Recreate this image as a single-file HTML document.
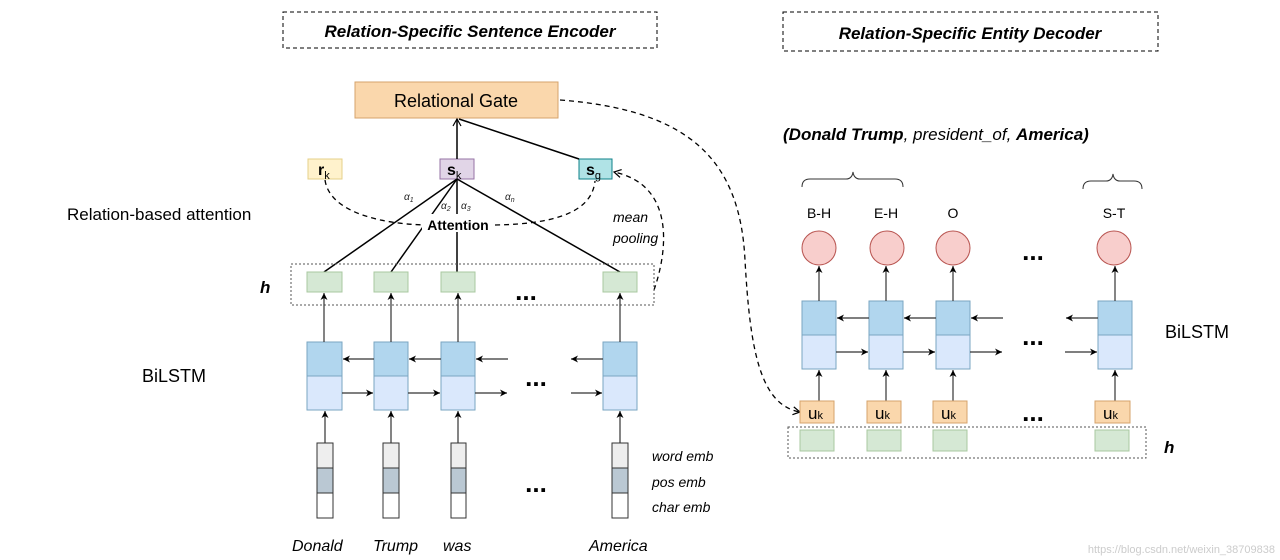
<!DOCTYPE html>
<html><head><meta charset="utf-8"><style>
html,body{margin:0;padding:0;background:#fff}
svg{display:block;font-family:"Liberation Sans",sans-serif}
</style></head><body>
<svg width="1280" height="560" viewBox="0 0 1280 560" xmlns="http://www.w3.org/2000/svg">
<defs>
<marker id="a" markerWidth="8" markerHeight="8" refX="7" refY="4" orient="auto" markerUnits="userSpaceOnUse"><path d="M0,0.5 L7,4 L0,7.5 L2,4 Z" fill="#000"/></marker>
<marker id="o" markerWidth="10" markerHeight="10" refX="8" refY="5" orient="auto" markerUnits="userSpaceOnUse"><path d="M1,1 L8,5 L1,9" fill="none" stroke="#000" stroke-width="1.2"/></marker>
</defs>
<!-- titles -->
<rect x="283" y="12" width="374" height="36" fill="none" stroke="#000" stroke-dasharray="4,3"/>
<text x="470" y="37" text-anchor="middle" font-size="17" font-weight="bold" font-style="italic">Relation-Specific Sentence Encoder</text>
<rect x="783" y="12" width="375" height="39" fill="none" stroke="#000" stroke-dasharray="4,3"/>
<text x="970" y="39" text-anchor="middle" font-size="17" font-weight="bold" font-style="italic">Relation-Specific Entity Decoder</text>

<!-- left side -->
<rect x="355" y="82" width="203" height="36" fill="#fad7ac" stroke="#d6a36b"/>
<text x="456" y="107" text-anchor="middle" font-size="18">Relational Gate</text>
<rect x="308" y="159" width="34" height="20" fill="#fff2cc" stroke="#e6d08a"/>
<text x="318" y="175" font-size="16" font-weight="bold">r<tspan font-size="11" dy="4" font-weight="normal">k</tspan></text>
<rect x="440" y="159" width="34" height="20" fill="#e1d5e7" stroke="#9673a6"/>
<text x="447" y="175" font-size="16" font-weight="bold">s<tspan font-size="11" dy="4" font-weight="normal">k</tspan></text>
<rect x="579" y="159" width="33" height="20" fill="#b0e3e6" stroke="#0e8088"/>
<text x="586" y="175" font-size="16" font-weight="bold">s<tspan font-size="11" dy="4" font-weight="normal">g</tspan></text>
<line x1="457" y1="159" x2="457" y2="119" stroke="#000" stroke-width="1.5" marker-end="url(#o)"/>
<line x1="579" y1="159" x2="459" y2="119" stroke="#000" stroke-width="1.5"/>
<path d="M325,180 C330,215 390,225 430,225" fill="none" stroke="#000" stroke-width="1.3" stroke-dasharray="5,4"/>
<path d="M495,225 C560,224 592,210 595,181" fill="none" stroke="#000" stroke-width="1.3" stroke-dasharray="5,4"/>
<g stroke="#000" stroke-width="1.5">
<line x1="457" y1="179" x2="324" y2="272"/>
<line x1="457" y1="179" x2="391" y2="272"/>
<line x1="457" y1="179" x2="457" y2="272"/>
<line x1="457" y1="179" x2="620" y2="272"/>
</g>
<rect x="422" y="214" width="72" height="18" fill="#fff"/>
<text x="458" y="230" text-anchor="middle" font-size="14" font-weight="bold">Attention</text>
<g font-size="10" font-style="italic" fill="#222">
<text x="404" y="200">α<tspan font-size="7" dy="2">1</tspan></text>
<text x="441" y="209">α<tspan font-size="7" dy="2">2</tspan></text>
<text x="461" y="209">α<tspan font-size="7" dy="2">3</tspan></text>
<text x="505" y="200">α<tspan font-size="7" dy="2">n</tspan></text>
</g>
<text x="613" y="222" font-size="14" font-style="italic">mean</text>
<text x="613" y="243" font-size="14" font-style="italic">pooling</text>
<path d="M654,290 C668,250 675,185 614,172" fill="none" stroke="#000" stroke-width="1.3" stroke-dasharray="5,4" marker-end="url(#o)"/>
<text x="67" y="220" font-size="17">Relation-based attention</text>
<text x="260" y="293" font-size="17" font-weight="bold" font-style="italic">h</text>
<text x="142" y="382" font-size="18">BiLSTM</text>
<rect x="291" y="264" width="363" height="41" fill="none" stroke="#555" stroke-dasharray="2,2"/>
<g fill="#d5e8d4" stroke="#a9c8a0">
<rect x="307" y="272" width="35" height="20"/><rect x="374" y="272" width="34" height="20"/><rect x="441" y="272" width="34" height="20"/><rect x="603" y="272" width="34" height="20"/>
</g>
<text x="526" y="300" text-anchor="middle" font-size="26" font-weight="bold">...</text>
<!-- bilstm left -->
<g stroke="#7aa6c2">
<rect x="307" y="342" width="35" height="34" fill="#b1d6ee"/><rect x="307" y="376" width="35" height="34" fill="#dae8fc"/>
<rect x="374" y="342" width="34" height="34" fill="#b1d6ee"/><rect x="374" y="376" width="34" height="34" fill="#dae8fc"/>
<rect x="441" y="342" width="34" height="34" fill="#b1d6ee"/><rect x="441" y="376" width="34" height="34" fill="#dae8fc"/>
<rect x="603" y="342" width="34" height="34" fill="#b1d6ee"/><rect x="603" y="376" width="34" height="34" fill="#dae8fc"/>
</g>
<g stroke="#333" stroke-width="1.2" marker-end="url(#a)">
<line x1="324" y1="342" x2="324" y2="293"/><line x1="391" y1="342" x2="391" y2="293"/><line x1="458" y1="342" x2="458" y2="293"/><line x1="620" y1="342" x2="620" y2="293"/>
<line x1="374" y1="359" x2="343" y2="359"/><line x1="441" y1="359" x2="409" y2="359"/><line x1="508" y1="359" x2="476" y2="359"/><line x1="603" y1="359" x2="571" y2="359"/>
<line x1="342" y1="393" x2="373" y2="393"/><line x1="408" y1="393" x2="440" y2="393"/><line x1="475" y1="393" x2="507" y2="393"/><line x1="571" y1="393" x2="602" y2="393"/>
<line x1="325" y1="443" x2="325" y2="411"/><line x1="391" y1="443" x2="391" y2="411"/><line x1="458" y1="443" x2="458" y2="411"/><line x1="620" y1="443" x2="620" y2="411"/>
</g>
<text x="536" y="386" text-anchor="middle" font-size="26" font-weight="bold">...</text>
<g stroke="#333">
<rect x="317" y="443" width="16" height="25" fill="#eeeeee"/><rect x="317" y="468" width="16" height="25" fill="#bac8d3"/><rect x="317" y="493" width="16" height="25" fill="#fff"/>
<rect x="383" y="443" width="16" height="25" fill="#eeeeee"/><rect x="383" y="468" width="16" height="25" fill="#bac8d3"/><rect x="383" y="493" width="16" height="25" fill="#fff"/>
<rect x="451" y="443" width="15" height="25" fill="#eeeeee"/><rect x="451" y="468" width="15" height="25" fill="#bac8d3"/><rect x="451" y="493" width="15" height="25" fill="#fff"/>
<rect x="612" y="443" width="16" height="25" fill="#eeeeee"/><rect x="612" y="468" width="16" height="25" fill="#bac8d3"/><rect x="612" y="493" width="16" height="25" fill="#fff"/>
</g>
<text x="536" y="492" text-anchor="middle" font-size="26" font-weight="bold">...</text>
<g font-size="14" font-style="italic">
<text x="652" y="461">word emb</text><text x="652" y="487">pos emb</text><text x="652" y="512">char emb</text>
</g>
<g font-size="16" font-style="italic">
<text x="292" y="551">Donald</text><text x="373" y="551">Trump</text><text x="443" y="551">was</text><text x="589" y="551">America</text>
</g>
<path d="M560,100 C690,110 740,160 745,260 C750,350 760,405 800,412" fill="none" stroke="#000" stroke-width="1.3" stroke-dasharray="5,4" marker-end="url(#o)"/>

<!-- right side -->
<text x="783" y="140" font-size="17" font-style="italic"><tspan font-weight="bold">(Donald Trump</tspan>, president_of,  <tspan font-weight="bold">America)</tspan></text>
<path d="M802,187 Q802,179 810,179 L846,179 Q852,179 853,172 Q854,179 860,179 L895,179 Q903,179 903,187" fill="none" stroke="#333"/>
<path d="M1083,189 Q1083,181 1091,181 L1106,181 Q1112,181 1113,174 Q1114,181 1120,181 L1134,181 Q1142,181 1142,189" fill="none" stroke="#333"/>
<g font-size="14" text-anchor="middle">
<text x="819" y="218">B-H</text><text x="886" y="218">E-H</text><text x="953" y="218">O</text><text x="1114" y="218">S-T</text>
</g>
<g fill="#f8cecc" stroke="#b85450">
<circle cx="819" cy="248" r="17"/><circle cx="887" cy="248" r="17"/><circle cx="953" cy="248" r="17"/><circle cx="1114" cy="248" r="17"/>
</g>
<text x="1033" y="260" text-anchor="middle" font-size="26" font-weight="bold">...</text>
<g stroke="#7aa6c2">
<rect x="802" y="301" width="34" height="34" fill="#b1d6ee"/><rect x="802" y="335" width="34" height="34" fill="#dae8fc"/>
<rect x="869" y="301" width="34" height="34" fill="#b1d6ee"/><rect x="869" y="335" width="34" height="34" fill="#dae8fc"/>
<rect x="936" y="301" width="34" height="34" fill="#b1d6ee"/><rect x="936" y="335" width="34" height="34" fill="#dae8fc"/>
<rect x="1098" y="301" width="34" height="34" fill="#b1d6ee"/><rect x="1098" y="335" width="34" height="34" fill="#dae8fc"/>
</g>
<g stroke="#333" stroke-width="1.2" marker-end="url(#a)">
<line x1="819" y1="301" x2="819" y2="266"/><line x1="886" y1="301" x2="886" y2="266"/><line x1="953" y1="301" x2="953" y2="266"/><line x1="1115" y1="301" x2="1115" y2="266"/>
<line x1="869" y1="318" x2="837" y2="318"/><line x1="936" y1="318" x2="904" y2="318"/><line x1="1003" y1="318" x2="971" y2="318"/><line x1="1098" y1="318" x2="1066" y2="318"/>
<line x1="836" y1="352" x2="868" y2="352"/><line x1="903" y1="352" x2="935" y2="352"/><line x1="970" y1="352" x2="1002" y2="352"/><line x1="1065" y1="352" x2="1097" y2="352"/>
<line x1="819" y1="401" x2="819" y2="370"/><line x1="886" y1="401" x2="886" y2="370"/><line x1="953" y1="401" x2="953" y2="370"/><line x1="1115" y1="401" x2="1115" y2="370"/>
</g>
<text x="1033" y="345" text-anchor="middle" font-size="26" font-weight="bold">...</text>
<text x="1165" y="338" font-size="18">BiLSTM</text>
<g fill="#fad7ac" stroke="#d6a36b">
<rect x="800" y="401" width="34" height="22"/><rect x="867" y="401" width="34" height="22"/><rect x="933" y="401" width="34" height="22"/><rect x="1095" y="401" width="35" height="22"/>
</g>
<g font-size="17">
<text x="808" y="419">u<tspan font-size="11">k</tspan></text><text x="875" y="419">u<tspan font-size="11">k</tspan></text><text x="941" y="419">u<tspan font-size="11">k</tspan></text><text x="1103" y="419">u<tspan font-size="11">k</tspan></text>
</g>
<text x="1033" y="421" text-anchor="middle" font-size="26" font-weight="bold">...</text>
<rect x="788" y="427" width="358" height="31" fill="none" stroke="#555" stroke-dasharray="2,2"/>
<g fill="#d5e8d4" stroke="#a9c8a0">
<rect x="800" y="430" width="34" height="21"/><rect x="867" y="430" width="34" height="21"/><rect x="933" y="430" width="34" height="21"/><rect x="1095" y="430" width="34" height="21"/>
</g>
<text x="1164" y="453" font-size="17" font-weight="bold" font-style="italic">h</text>
<text x="1275" y="553" text-anchor="end" font-size="11" fill="#ccc">https://blog.csdn.net/weixin_38709838</text>
</svg>
</body></html>
